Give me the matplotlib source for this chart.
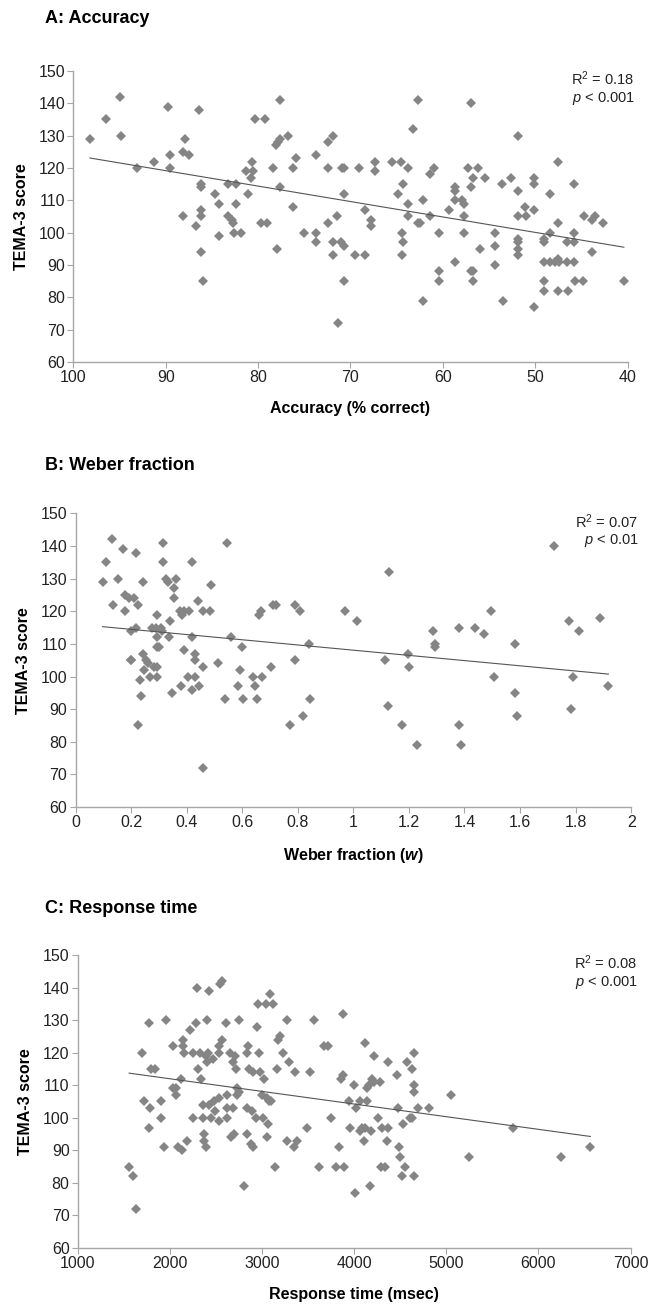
import numpy as np
import matplotlib
matplotlib.use("Agg")
import matplotlib.pyplot as plt

plt.rcParams['font.family'] = ['Liberation Sans', 'DejaVu Sans']
plt.rcParams['mathtext.fontset'] = 'custom'
plt.rcParams['mathtext.rm'] = 'Liberation Sans'
plt.rcParams['mathtext.it'] = 'Liberation Sans:italic'
plt.rcParams['mathtext.bf'] = 'Liberation Sans:italic:bold'

# A: accuracy (% correct) vs TEMA-3
acc_x = [98.2, 96.5, 94.9, 94.8, 93.1, 91.3, 89.8, 89.5, 89.5, 88.1,
         87.9, 87.5, 88.1, 86.7, 86.4, 86.2, 86.2, 86.2, 86.2, 86.2,
         86.0, 84.7, 84.2, 84.2, 83.3, 83.3, 82.8, 82.7, 82.4, 82.4,
         82.6, 81.8, 81.3, 81.1, 80.7, 80.8, 80.5, 80.3, 79.7, 79.3,
         79.0, 78.4, 78.1, 77.8, 77.6, 77.6, 77.6, 78.0, 76.8, 76.2,
         75.9, 76.2, 75.0, 73.7, 73.7, 73.7, 72.4, 72.4, 72.4, 71.9,
         71.9, 71.9, 71.5, 71.4, 71.0, 70.9, 70.7, 70.7, 70.7, 70.7,
         69.5, 69.1, 68.4, 68.4, 67.8, 67.8, 67.3, 67.3, 65.5, 64.9,
         64.5, 64.3, 64.4, 64.3, 64.4, 63.8, 63.8, 63.8, 63.2, 62.7,
         62.7, 62.5, 62.1, 62.1, 61.4, 61.4, 61.0, 60.4, 60.4, 60.4,
         59.3, 58.7, 58.7, 58.7, 58.7, 57.9, 57.7, 57.7, 57.7, 57.3,
         56.9, 56.9, 56.7, 56.9, 56.7, 56.7, 56.2, 56.0, 55.4, 54.3,
         54.4, 54.4, 53.6, 53.5, 52.6, 51.9, 51.9, 51.9, 51.9, 51.9,
         51.9, 51.9, 51.1, 51.0, 50.1, 50.1, 50.1, 50.1, 49.1, 49.1,
         49.1, 49.1, 49.1, 48.4, 48.4, 48.4, 47.9, 47.5, 47.5, 47.5,
         47.4, 47.5, 46.6, 46.6, 46.5, 45.8, 45.8, 45.8, 45.8, 45.7,
         44.8, 44.7, 43.9, 43.9, 43.5, 42.7, 40.4]
acc_y = [129, 135, 142, 130, 120, 122, 139, 124, 120, 125,
         129, 124, 105, 102, 138, 115, 114, 107, 105, 94,
         85, 112, 109, 99, 115, 105, 104, 103, 115, 109,
         100, 100, 119, 112, 122, 117, 119, 135, 103, 135,
         103, 120, 127, 128, 129, 141, 114, 95, 130, 120,
         123, 108, 100, 124, 100, 97, 103, 128, 120, 130,
         97, 93, 105, 72, 97, 120, 96, 112, 85, 120,
         93, 120, 107, 93, 104, 102, 122, 119, 122, 112,
         122, 115, 100, 97, 93, 120, 109, 105, 132, 141,
         103, 103, 79, 110, 118, 105, 120, 100, 88, 85,
         107, 114, 113, 110, 91, 110, 109, 105, 100, 120,
         140, 114, 117, 88, 88, 85, 120, 95, 117, 100,
         96, 90, 115, 79, 117, 130, 113, 105, 98, 97,
         95, 93, 108, 105, 117, 115, 107, 77, 98, 97,
         91, 85, 82, 112, 100, 91, 91, 122, 103, 92,
         91, 82, 97, 91, 82, 115, 100, 97, 91, 85,
         85, 105, 94, 104, 105, 103, 85]

# B: Weber fraction vs TEMA-3
web_x = [0.097, 0.109, 0.131, 0.136, 0.152, 0.171, 0.179, 0.179, 0.191, 0.198,
         0.198, 0.201, 0.209, 0.216, 0.219, 0.224, 0.225, 0.231, 0.237, 0.243,
         0.243, 0.246, 0.252, 0.261, 0.268, 0.274, 0.282, 0.288, 0.294, 0.294,
         0.294, 0.294, 0.294, 0.300, 0.306, 0.311, 0.314, 0.314, 0.326, 0.331,
         0.335, 0.341, 0.347, 0.353, 0.355, 0.362, 0.376, 0.379, 0.383, 0.390,
         0.389, 0.407, 0.405, 0.420, 0.420, 0.420, 0.431, 0.431, 0.431, 0.440,
         0.443, 0.458, 0.460, 0.460, 0.483, 0.489, 0.514, 0.539, 0.545, 0.559,
         0.584, 0.592, 0.599, 0.604, 0.638, 0.645, 0.653, 0.660, 0.668, 0.671,
         0.705, 0.711, 0.721, 0.772, 0.791, 0.791, 0.809, 0.820, 0.842, 0.845,
         0.970, 1.012, 1.113, 1.124, 1.130, 1.176, 1.197, 1.200, 1.228, 1.288,
         1.294, 1.295, 1.382, 1.379, 1.389, 1.438, 1.471, 1.495, 1.505, 1.583,
         1.583, 1.589, 1.724, 1.776, 1.782, 1.790, 1.814, 1.888, 1.918]
web_y = [129, 135, 142, 122, 130, 139, 120, 125, 124, 114,
         105, 105, 124, 115, 138, 122, 85, 99, 94, 129,
         107, 102, 105, 104, 100, 115, 103, 115, 119, 112,
         109, 103, 100, 109, 115, 114, 141, 135, 130, 129,
         112, 117, 95, 127, 124, 130, 120, 97, 119, 120,
         108, 120, 100, 135, 112, 96, 107, 105, 100, 123,
         97, 103, 120, 72, 120, 128, 104, 93, 141, 112,
         97, 102, 109, 93, 100, 97, 93, 119, 120, 100,
         103, 122, 122, 85, 105, 122, 120, 88, 110, 93,
         120, 117, 105, 91, 132, 85, 107, 103, 79, 114,
         110, 109, 115, 85, 79, 115, 113, 120, 100, 110,
         95, 88, 140, 117, 90, 100, 114, 118, 97]

# C: response time (msec) vs TEMA-3
rt_x = [1557, 1602, 1629, 1692, 1723, 1777, 1781, 1772, 1790, 1835,
        1907, 1907, 1930, 1952, 2033, 2033, 2060, 2069, 2091, 2118,
        2132, 2141, 2141, 2150, 2190, 2221, 2253, 2253, 2284, 2298,
        2302, 2329, 2338, 2356, 2356, 2365, 2365, 2387, 2387, 2410,
        2401, 2423, 2405, 2423, 2446, 2464, 2477, 2486, 2527, 2527,
        2531, 2536, 2540, 2567, 2562, 2603, 2616, 2616, 2621, 2647,
        2661, 2679, 2684, 2697, 2706, 2715, 2724, 2728, 2746, 2746,
        2800, 2836, 2841, 2850, 2841, 2863, 2877, 2895, 2904, 2904,
        2931, 2944, 2953, 2971, 2976, 3003, 3012, 3016, 3043, 3052,
        3066, 3048, 3075, 3084, 3097, 3115, 3142, 3160, 3173, 3191,
        3227, 3267, 3272, 3290, 3348, 3362, 3380, 3492, 3515, 3569,
        3613, 3672, 3717, 3753, 3802, 3838, 3856, 3879, 3883, 3892,
        3941, 3950, 4000, 4008, 4022, 4058, 4062, 4080, 4107, 4116,
        4116, 4139, 4139, 4161, 4175, 4184, 4197, 4210, 4220, 4260,
        4278, 4287, 4305, 4336, 4354, 4367, 4367, 4466, 4480, 4484,
        4502, 4516, 4529, 4556, 4574, 4605, 4628, 4628, 4651, 4654,
        4654, 4654, 4691, 4808, 5050, 5248, 5724, 6249, 6564]
rt_y = [85, 82, 72, 120, 105, 129, 103, 97, 115, 115,
        105, 100, 91, 130, 122, 109, 109, 107, 91, 112,
        90, 124, 122, 120, 93, 127, 100, 120, 129, 140,
        115, 120, 112, 104, 100, 95, 93, 91, 119, 120,
        117, 139, 130, 104, 100, 118, 105, 102, 99, 120,
        106, 122, 141, 142, 124, 129, 107, 103, 100, 120,
        94, 117, 103, 95, 119, 115, 109, 107, 108, 130,
        79, 95, 103, 122, 120, 115, 92, 102, 91, 114,
        100, 128, 135, 120, 114, 107, 100, 112, 135, 94,
        98, 106, 105, 138, 105, 135, 85, 115, 124, 125,
        120, 93, 130, 117, 91, 114, 93, 97, 114, 130,
        85, 122, 122, 100, 85, 91, 112, 132, 113, 85,
        105, 97, 110, 77, 103, 105, 96, 97, 93, 123,
        97, 105, 109, 110, 79, 96, 112, 119, 111, 100,
        111, 85, 97, 85, 93, 97, 117, 113, 103, 91,
        88, 82, 98, 85, 117, 100, 115, 100, 120, 110,
        108, 82, 103, 103, 107, 88, 97, 88, 91]

fig = plt.figure(figsize=(6.49, 13.05), dpi=100)

panels = [
    ("A: Accuracy", acc_x, acc_y, "Accuracy (% correct)", "R$^2$ = 0.18\n$\\mathit{p}$ < 0.001",
     [0.113, 0.7226, 0.854, 0.223], (100, 40), np.arange(100, 39, -10), 0.0405),
    ("B: Weber fraction", web_x, web_y, "Weber fraction ($\\mathbf{w}$)", "R$^2$ = 0.07\n$\\mathit{p}$ < 0.01",
     [0.1165, 0.3816, 0.856, 0.225], (0, 2), [0, 0.2, 0.4, 0.6, 0.8, 1, 1.2, 1.4, 1.6, 1.8, 2], 0.0365),
    ("C: Response time", rt_x, rt_y, "Response time (msec)", "R$^2$ = 0.08\n$\\mathit{p}$ < 0.001",
     [0.120, 0.0437, 0.8515, 0.2245], (1000, 7000), np.arange(1000, 7001, 1000), 0.036),
]

for title, xs, ys, xlab, stats, rect, xlim, xticks, tgap in panels:
    ax = fig.add_axes(rect)
    xs = np.array(xs, dtype=float)
    ys = np.array(ys, dtype=float)
    ax.plot(xs, ys, linestyle='none', marker='D', markersize=5.3,
            color='#858585', markeredgewidth=0)
    # linear trend line
    slope, icpt = np.polyfit(xs, ys, 1)
    lx = np.array([xs.min(), xs.max()])
    ax.plot(lx, slope * lx + icpt, color='#555555', linewidth=0.8)

    ax.set_xlim(*xlim)
    ax.set_ylim(60, 150)
    ax.set_xticks(xticks)
    if title.startswith("B"):
        ax.set_xticklabels(['0', '0.2', '0.4', '0.6', '0.8', '1', '1.2', '1.4', '1.6', '1.8', '2'])
    ax.set_yticks(np.arange(60, 151, 10))
    for s in ['top', 'right']:
        ax.spines[s].set_visible(False)
    for s in ['left', 'bottom']:
        ax.spines[s].set_color('#a6a6a6')
        ax.spines[s].set_linewidth(1.0)
    ax.tick_params(direction='out', length=4, color='#a6a6a6', labelsize=11.5,
                   labelcolor='#222222', pad=2)
    ax.set_ylabel("TEMA-3 score", fontsize=11.5, fontweight='bold', labelpad=7)
    ax.set_xlabel(xlab, fontsize=11.5, fontweight='bold', labelpad=11)
    ax.text(1.013, 1.005, stats, transform=ax.transAxes, ha='right', va='top',
            fontsize=10.5, color='#222222', linespacing=1.15)
    fig.text(0.07, rect[1] + rect[3] + tgap, title, fontsize=13,
             fontweight='bold', ha='left', va='center')

fig.savefig("out.png", dpi=100)
